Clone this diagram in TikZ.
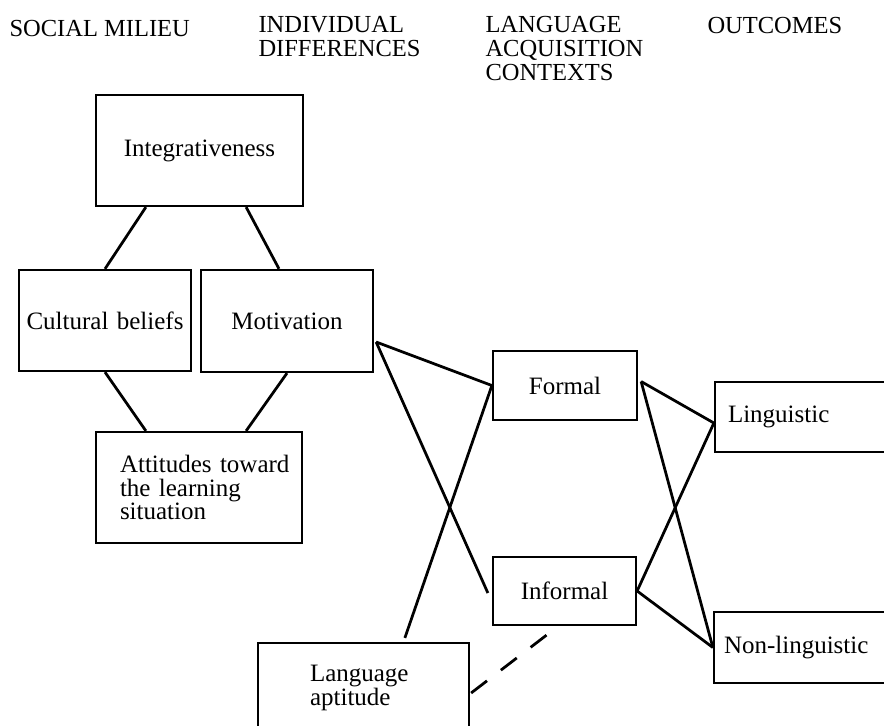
\documentclass[tikz,border=0pt]{standalone}
\usepackage{fontspec}
\setmainfont{Liberation Serif}
\usetikzlibrary{positioning}
\usetikzlibrary{calc}

\newlength{\unitpx}
\setlength{\unitpx}{0.4pt}

\tikzset{
  box/.style 2 args={draw, line width=0.9pt, inner sep=0pt, align=center,
    text width=#1*\unitpx, minimum width=#1*\unitpx, minimum height=#2*\unitpx,
    font=\fontsize{10}{9.3}\selectfont},
  padleft/.style={align=left, execute at begin node={\leftskip=#1\unitpx}},
  head/.style={inner sep=0pt, anchor=north west, align=left,
    font=\fontsize{9.8}{9.6}\selectfont},
  link/.style={line width=1.1pt},
}

\begin{document}
\begin{tikzpicture}[x=1\unitpx, y=-1\unitpx]
    \useasboundingbox (0,0) rectangle (884,725);
    \clip (0,0) rectangle (884,725);
    % column headings
    \node[head] (social) at (9,20) {SOCIAL MILIEU};
    \node[head] (indiv) at (258,16) {INDIVIDUAL\\DIFFERENCES};
    \node[head] (context) at (485,16) {LANGUAGE\\ACQUISITION\\CONTEXTS};
    \node[head] (outcome) at (707,17) {OUTCOMES};
    % boxes
    \node[box={207}{111}] (integ) at (199.5,150.5) {Integrativeness};
    \node[box={172}{101}] (cult) at (105,320.5) {Cultural beliefs};
    \node[box={172}{102}] (motiv) at (287,321) {Motivation};
    \node[box={206}{111}, padleft=24] (attit) at (199,487.5) {Attitudes toward\\the learning\\situation};
    \node[box={144}{69}] (formal) at (565,385.5) {Formal};
    \node[box={143}{68}] (informal) at (564.5,591) {Informal};
    \node[box={200}{70}, padleft=13] (ling) at (815,417) {Linguistic};
    \node[box={200}{71}, padleft=10] (nonling) at (814,647.5) {Non-linguistic};
    \node[box={211}{90}, padleft=52] (aptit) at (363.5,688) {Language\\aptitude};
    % end points
    \coordinate (iL) at ([shift={(51,0)}]integ.south west);
    \coordinate (iR) at ([shift={(-58,0)}]integ.south east);
    \coordinate (mT) at ([shift={(-8,0)}]motiv.north);
    \coordinate (aL) at ([shift={(51,0)}]attit.north west);
    \coordinate (aR) at ([shift={(-57,0)}]attit.north east);
    \coordinate (mv) at ([shift={(2,21)}]motiv.east);
    \coordinate (infW) at ([shift={(-4,2)}]informal.west);
    \coordinate (apT) at ([shift={(148,-4)}]aptit.north west);
    \coordinate (fr) at ([shift={(3,-4)}]formal.east);
    \coordinate (lw) at ([shift={(0,6)}]ling.west);
    \coordinate (apE) at ([shift={(1,5)}]aptit.east);
    \coordinate (infS) at ([shift={(-18,9)}]informal.south);
    \foreach \a/\b in {iL/cult.north, iR/mT, cult.south/aL, motiv.south/aR,
        mv/formal.west, mv/infW, formal.west/apT, fr/lw, fr/nonling.west,
        informal.east/lw, informal.east/nonling.west}
        \draw[link] (\a) -- (\b);
    \draw[link, dash pattern=on 8pt off 7pt] (apE) -- (infS);
\end{tikzpicture}
\end{document}
